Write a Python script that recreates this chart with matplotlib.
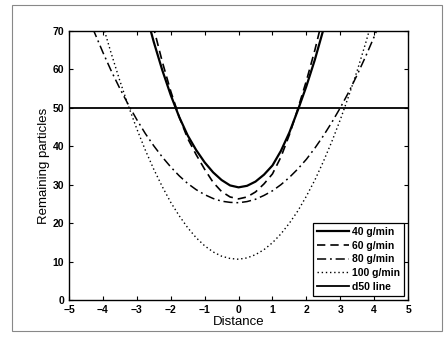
import matplotlib.pyplot as plt
from matplotlib.patches import Rectangle

# distances
X_NARROW = [-2.75, -2.5, -2.25, -2.0, -1.75, -1.5, -1.25, -1.0, -0.75, -0.5, -0.25, 0.0,
            0.25, 0.5, 0.75, 1.0, 1.25, 1.5, 1.75, 2.0, 2.25, 2.5, 2.75]
X_WIDE = [-4.5, -4.25, -4.0, -3.75, -3.5, -3.25, -3.0, -2.75, -2.5, -2.25, -2.0, -1.75,
          -1.5, -1.25, -1.0, -0.75, -0.5, -0.25, 0.0, 0.25, 0.5, 0.75, 1.0, 1.25, 1.5,
          1.75, 2.0, 2.25, 2.5, 2.75, 3.0, 3.25, 3.5, 3.75, 4.0, 4.25, 4.5]

RATE_40 = [75.2, 67.1, 59.8, 53.3, 47.6, 42.8, 39.0, 35.8, 33.2, 31.2, 29.8, 29.3,
           29.7, 30.8, 32.6, 35.0, 38.8, 43.6, 49.4, 55.6, 62.5, 70.3, 78.7]
RATE_60 = [80.0, 70.6, 62.0, 54.3, 47.6, 42.0, 37.8, 34.0, 30.6, 28.2, 26.8, 26.3,
           26.8, 28.1, 30.2, 32.8, 37.2, 43.0, 49.8, 57.0, 65.0, 74.0, 83.0]
RATE_80 = [75.1, 69.6, 64.4, 59.5, 55.0, 50.8, 46.9, 43.3, 40.1, 37.2, 34.6, 32.3,
           30.3, 28.7, 27.4, 26.4, 25.7, 25.4, 25.3, 25.6, 26.2, 27.2, 28.4, 30.0, 31.9,
           34.1, 36.6, 39.5, 42.7, 46.2, 50.0, 54.1, 58.6, 63.4, 68.5, 73.9, 79.7]
RATE_100 = [87.8, 79.4, 71.4, 64.0, 57.0, 50.5, 44.5, 39.0, 34.0, 29.5, 25.4, 21.9,
            18.8, 16.2, 14.1, 12.5, 11.4, 10.8, 10.6, 10.95, 11.8, 13.1, 14.9, 17.2, 20.0,
            23.2, 27.0, 31.2, 36.0, 41.2, 46.9, 53.1, 59.7, 66.9, 74.6, 82.7, 91.3]
D50 = 50

X_TICKS = [-5, -4, -3, -2, -1, 0, 1, 2, 3, 4, 5]
Y_TICKS = [0, 10, 20, 30, 40, 50, 60, 70]

plt.rcParams['font.family'] = ['Liberation Sans', 'DejaVu Sans']

fig = plt.figure(figsize=(4.48, 3.39), dpi=100)
ax = fig.add_axes([0.154, 0.115, 0.757, 0.794])

ax.plot(X_NARROW, RATE_40, color='black', lw=1.6, ls='-', label='40 g/min')
ax.plot(X_NARROW, RATE_60, color='black', lw=1.2, ls=(0, (5, 3)), label='60 g/min')
ax.plot(X_WIDE, RATE_80, color='black', lw=1.1, ls=(0, (6, 2.5, 1.2, 2.5)), label='80 g/min')
ax.plot(X_WIDE, RATE_100, color='black', lw=1.0, ls=(0, (1, 2)), label='100 g/min')
ax.axhline(D50, color='black', lw=1.3, label='d50 line')

ax.set_xlim(-5, 5)
ax.set_ylim(0, 70)
ax.set_xticks(X_TICKS)
ax.set_yticks(Y_TICKS)
ax.tick_params(direction='in', top=True, right=True, length=3, labelsize=7.5)
for lbl in ax.get_xticklabels() + ax.get_yticklabels():
    lbl.set_fontweight('bold')
for s in ax.spines.values():
    s.set_linewidth(1.0)

ax.set_xlabel('Distance', fontsize=9.5, labelpad=1)
ax.set_ylabel('Remaining particles', fontsize=9.5, labelpad=2)

leg = ax.legend(loc='lower right', fontsize=7.5, handlelength=3.0, handletextpad=0.3,
                labelspacing=0.35, borderaxespad=0.4, borderpad=0.4,
                fancybox=False, framealpha=1, edgecolor='black', prop={'weight': 'bold', 'size': 7.5})
leg.get_frame().set_linewidth(0.9)

fig.patches.append(Rectangle((12 / 448, 8 / 339), 430 / 448, 326 / 339, transform=fig.transFigure,
                             fill=False, edgecolor='#888888', lw=0.8))

fig.savefig('out.png', dpi=100)
